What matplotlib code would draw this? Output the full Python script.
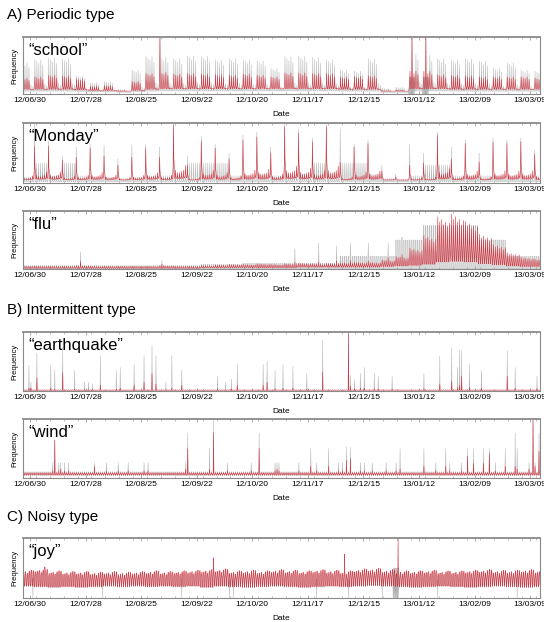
import numpy as np
import pandas as pd
import matplotlib
matplotlib.use("Agg")
import matplotlib.pyplot as plt
import matplotlib.dates as mdates

plt.rcParams['font.family'] = ['Liberation Sans', 'DejaVu Sans']

# ---------------- data ----------------
first_monday = "2012-06-25"
n_weeks = 38
tick_dates = ["2012-06-30", "2012-07-28", "2012-08-25", "2012-09-22", "2012-10-20",
              "2012-11-17", "2012-12-15", "2013-01-12", "2013-02-09", "2013-03-09"]
tick_labels = ["12/06/30", "12/07/28", "12/08/25", "12/09/22", "12/10/20",
               "12/11/17", "12/12/15", "13/01/12", "13/02/09", "13/03/09"]
x_range = ["2012-06-26 12:00", "2013-03-14"]

# "school" (weekly weekday-peak levels, Mon..Sun factors, 6 samples per day)
school_red_week = [0.28, 0.30, 0.33, 0.32, 0.27, 0.14, 0.15, 0.06, 0.22, 0.36,
                   0.38, 0.35, 0.36, 0.35, 0.34, 0.33, 0.35, 0.33, 0.30, 0.37,
                   0.37, 0.36, 0.36, 0.30, 0.31, 0.32, 0.06, 0.07, 0.40, 0.40,
                   0.34, 0.33, 0.32, 0.30, 0.30, 0.30, 0.30, 0.28]
school_gray_week = [0.55, 0.60, 0.63, 0.62, 0.32, 0.20, 0.22, 0.08, 0.42, 0.66,
                    0.65, 0.62, 0.67, 0.66, 0.60, 0.62, 0.60, 0.58, 0.45, 0.65,
                    0.66, 0.64, 0.60, 0.42, 0.40, 0.62, 0.10, 0.12, 0.70, 0.68,
                    0.62, 0.60, 0.62, 0.58, 0.45, 0.55, 0.42, 0.40]
school_base_week = [0.08, 0.08, 0.08, 0.08, 0.07, 0.06, 0.06, 0.05, 0.06, 0.08,
                    0.09, 0.09, 0.09, 0.09, 0.09, 0.09, 0.09, 0.09, 0.09, 0.09,
                    0.09, 0.09, 0.09, 0.08, 0.08, 0.08, 0.05, 0.05, 0.09, 0.09,
                    0.09, 0.08, 0.08, 0.08, 0.08, 0.08, 0.08, 0.08]
school_weekday = [1.0, 0.95, 0.9, 1.0, 0.85, 0.3, 0.25]
school_red_profile = [0.0, 0.1, 0.3, 1.0, 0.3, 0.15]
school_gray_profile = [0.0, 0.0, 0.1, 1.0, 0.05, 0.0]
school_spike_dates = ["2012-09-03", "2013-01-08", "2013-01-15"]
school_spike_red = [1.0, 1.0, 1.0]
school_spike_gray = [1.0, 1.0, 1.0]
school_block_dates = ["2013-01-07", "2013-01-08", "2013-01-09", "2013-01-14", "2013-01-15", "2013-01-16"]
school_block_high = 0.3

# "Monday"
monday_red_week = [0.40, 0.61, 0.62, 0.38, 0.43, 0.58, 0.45, 0.30, 0.43, 0.58,
                   0.43, 0.97, 0.30, 0.70, 0.58, 0.40, 0.72, 0.77, 0.50, 0.94,
                   0.83, 0.69, 0.94, 0.35, 0.60, 0.66, 0.20, 0.10, 0.30, 0.33,
                   0.80, 0.40, 0.66, 0.35, 0.68, 0.66, 0.69, 0.48]
monday_gray_week = [0.50, 1.00, 0.70, 0.45, 0.60, 0.65, 0.63, 0.40, 0.64, 0.65,
                    0.60, 1.00, 0.45, 0.78, 0.65, 0.50, 0.80, 0.85, 0.60, 1.00,
                    0.90, 0.75, 1.00, 0.90, 0.65, 0.72, 0.30, 0.15, 0.65, 0.50,
                    0.85, 0.60, 0.72, 0.50, 0.75, 0.72, 0.75, 0.55]
monday_gray_mid_week = [0.10, 0.33, 0.12, 0.33, 0.12, 0.10, 0.10, 0.08, 0.10, 0.12,
                        0.12, 0.12, 0.33, 0.33, 0.33, 0.12, 0.12, 0.15, 0.12, 0.15,
                        0.15, 0.33, 0.15, 0.33, 0.33, 0.15, 0.08, 0.06, 0.12, 0.30,
                        0.30, 0.12, 0.12, 0.12, 0.12, 0.12, 0.12, 0.12]
monday_weekday = [1.0, 0.22, 0.18, 0.18, 0.2, 0.22, 0.3]
monday_base = 0.05
monday_red_profile = [0.15, 0.3, 1.0, 0.4, 0.3, 0.2]
monday_gray_profile = [0.0, 0.1, 1.0, 0.2, 0.05, 0.0]

# "flu"
flu_red_week = [0.05, 0.05, 0.05, 0.05, 0.06, 0.05, 0.05, 0.05, 0.05, 0.05,
                0.06, 0.05, 0.05, 0.06, 0.07, 0.08, 0.08, 0.09, 0.08, 0.09,
                0.10, 0.09, 0.10, 0.11, 0.12, 0.12, 0.16, 0.22, 0.36, 0.58,
                0.90, 0.95, 0.82, 0.60, 0.42, 0.28, 0.20, 0.17]
flu_base_week = [0.01, 0.01, 0.01, 0.01, 0.01, 0.01, 0.01, 0.01, 0.01, 0.01,
                 0.01, 0.01, 0.01, 0.02, 0.02, 0.02, 0.02, 0.02, 0.02, 0.02,
                 0.03, 0.03, 0.03, 0.03, 0.03, 0.03, 0.04, 0.05, 0.06, 0.08,
                 0.12, 0.13, 0.12, 0.09, 0.07, 0.05, 0.04, 0.04]
flu_gray_week = [0.06, 0.06, 0.06, 0.06, 0.06, 0.06, 0.06, 0.06, 0.06, 0.06,
                 0.06, 0.06, 0.06, 0.08, 0.08, 0.08, 0.10, 0.10, 0.10, 0.10,
                 0.10, 0.10, 0.10, 0.22, 0.22, 0.22, 0.22, 0.50, 0.50, 0.75,
                 0.75, 0.75, 0.75, 0.50, 0.50, 0.22, 0.22, 0.22]
flu_weekday = [1.0, 0.9, 0.95, 0.85, 0.9, 0.8, 0.88]
flu_red_profile = [0.0, 0.15, 0.45, 1.0, 0.5, 0.2]
flu_gray_profile = [0.0, 0.0, 1.0, 1.0, 0.0, 0.0]
flu_spike_dates = ["2012-07-25", "2012-09-04", "2012-11-10", "2012-11-22", "2012-12-01",
                   "2012-12-08", "2012-12-17", "2012-12-27", "2013-01-03"]
flu_spike_red = [0.13, 0.08, 0.12, 0.12, 0.14, 0.15, 0.14, 0.2, 0.25]
flu_spike_gray = [0.30, 0.15, 0.35, 0.45, 0.40, 0.45, 0.45, 0.45, 0.55]

# "earthquake"
quake_base = 0.012
quake_dates = ["2012-06-29", "2012-06-30", "2012-07-03", "2012-07-10", "2012-07-12",
               "2012-07-16", "2012-07-22", "2012-07-27", "2012-07-29", "2012-07-31",
               "2012-08-04", "2012-08-12", "2012-08-14", "2012-08-21", "2012-08-26",
               "2012-08-30", "2012-09-01", "2012-09-06", "2012-09-09", "2012-09-14",
               "2012-10-02", "2012-10-06", "2012-10-09", "2012-10-12", "2012-10-25",
               "2012-10-27", "2012-10-31", "2012-11-04", "2012-11-09", "2012-11-16",
               "2012-11-24", "2012-12-07", "2012-12-08", "2012-12-10", "2012-12-13",
               "2012-12-15", "2012-12-20", "2012-12-22", "2012-12-29", "2013-01-14",
               "2013-01-22", "2013-01-28", "2013-01-31", "2013-02-01", "2013-02-02",
               "2013-02-06", "2013-02-12", "2013-02-25", "2013-03-01", "2013-03-12"]
quake_red = [0.05, 0.05, 0.22, 0.05, 0.03, 0.31, 0.03, 0.02, 0.02, 0.02,
             0.10, 0.03, 0.05, 0.10, 0.15, 0.30, 0.12, 0.02, 0.05, 0.10,
             0.03, 0.02, 0.03, 0.10, 0.10, 0.15, 0.04, 0.05, 0.05, 0.03,
             0.32, 1.00, 0.08, 0.04, 0.05, 0.05, 0.04, 0.03, 0.03, 0.04,
             0.12, 0.17, 0.06, 0.10, 0.25, 0.06, 0.05, 0.25, 0.05, 0.04]
quake_gray = [0.44, 0.15, 0.64, 0.44, 0.35, 0.73, 0.35, 0.15, 0.15, 0.12,
              0.59, 0.35, 0.40, 0.45, 0.60, 0.78, 0.60, 0.15, 0.60, 0.35,
              0.25, 0.15, 0.20, 0.45, 0.45, 0.50, 0.35, 0.45, 0.42, 0.30,
              0.86, 1.00, 0.27, 0.20, 0.30, 0.40, 0.30, 0.25, 0.25, 0.30,
              0.59, 0.73, 0.40, 0.70, 0.70, 0.45, 0.35, 0.68, 0.40, 0.25]

# "wind"
wind_base = 0.05
wind_day_peak = 0.09
wind_dates = ["2012-07-11", "2012-07-12", "2012-07-14", "2012-07-15", "2012-07-17",
              "2012-07-19", "2012-08-01", "2012-08-07", "2012-08-13", "2012-08-18",
              "2012-08-26", "2012-08-28", "2012-09-16", "2012-09-17", "2012-09-28",
              "2012-09-30", "2012-10-07", "2012-10-19", "2012-10-23", "2012-10-31",
              "2012-11-01", "2012-11-02", "2012-11-12", "2012-11-18", "2012-11-21",
              "2012-11-27", "2012-12-02", "2012-12-04", "2012-12-06", "2012-12-08",
              "2012-12-13", "2012-12-15", "2012-12-19", "2012-12-26", "2012-12-31",
              "2013-01-02", "2013-01-14", "2013-01-20", "2013-01-25", "2013-01-27",
              "2013-02-02", "2013-02-05", "2013-02-08", "2013-02-13", "2013-02-16",
              "2013-02-19", "2013-02-24", "2013-03-01", "2013-03-02", "2013-03-08",
              "2013-03-10", "2013-03-11", "2013-03-13"]
wind_red = [0.12, 0.64, 0.12, 0.15, 0.12, 0.12, 0.20, 0.12, 0.12, 0.12,
            0.12, 0.12, 0.15, 0.50, 0.15, 0.77, 0.12, 0.12, 0.50, 0.12,
            0.15, 0.12, 0.12, 0.20, 0.12, 0.20, 0.12, 0.12, 0.30, 0.33,
            0.12, 0.12, 0.12, 0.12, 0.12, 0.15, 0.20, 0.12, 0.20, 0.12,
            0.12, 0.37, 0.25, 0.25, 0.42, 0.12, 0.20, 0.20, 0.15, 0.15,
            0.98, 0.20, 0.45]
wind_gray = [0.26, 0.64, 0.26, 0.26, 0.26, 0.26, 0.26, 0.26, 0.26, 0.26,
             0.26, 0.26, 0.26, 0.76, 0.50, 1.00, 0.26, 0.26, 0.76, 0.26,
             0.26, 0.26, 0.26, 0.50, 0.26, 0.50, 0.26, 0.26, 0.52, 0.52,
             0.26, 0.26, 0.26, 0.26, 0.26, 0.50, 0.50, 0.26, 0.50, 0.26,
             0.26, 0.50, 0.50, 0.50, 0.50, 0.26, 0.50, 0.76, 0.50, 0.26,
             1.00, 0.26, 0.76]

# "joy"
joy_red_week = [0.44, 0.46, 0.43, 0.42, 0.42, 0.41, 0.42, 0.41, 0.42, 0.43,
                0.42, 0.43, 0.44, 0.45, 0.46, 0.43, 0.44, 0.43, 0.45, 0.44,
                0.43, 0.45, 0.44, 0.43, 0.46, 0.47, 0.45, 0.43, 0.43, 0.44,
                0.43, 0.43, 0.44, 0.45, 0.44, 0.44, 0.45, 0.44]
joy_base_week = [0.20, 0.19, 0.18, 0.19, 0.18, 0.19, 0.20, 0.19, 0.20, 0.19,
                 0.20, 0.19, 0.20, 0.18, 0.20, 0.19, 0.18, 0.19, 0.20, 0.19,
                 0.18, 0.19, 0.20, 0.19, 0.20, 0.21, 0.20, 0.19, 0.18, 0.19,
                 0.20, 0.19, 0.18, 0.19, 0.20, 0.19, 0.18, 0.19]
joy_weekday = [0.95, 0.97, 1.0, 0.93, 1.02, 1.06, 1.04]
joy_red_profile = [0.2, 0.0, 0.55, 0.85, 1.0, 0.7]
joy_spike_dates = ["2012-07-07", "2012-09-30", "2012-12-05", "2013-01-01"]
joy_spike_red = [0.52, 0.67, 0.73, 1.00]
joy_dip_dates = ["2012-07-01", "2012-08-05", "2012-09-14", "2012-10-08", "2012-10-10",
                 "2012-11-21", "2012-12-07", "2012-12-24", "2013-01-21", "2013-03-02"]
joy_block_dates = ["2012-12-30", "2012-12-31", "2013-01-01"]
joy_block_high = 0.5

# ---------------- helpers ----------------
SAMPLES = 6
days = pd.date_range(first_monday, periods=n_weeks * 7, freq="D")
day_num = mdates.date2num(days)
x_all = (day_num[:, None] + np.arange(SAMPLES)[None, :] / SAMPLES).ravel()


def per_day(week_vals, weekday):
    week_vals = np.broadcast_to(np.asarray(week_vals, float), (n_weeks,))
    return np.repeat(week_vals, 7) * np.tile(np.asarray(weekday, float), n_weeks)


def series(peak_day, base_day, profile):
    peak_day = np.broadcast_to(peak_day, (len(days),))
    base_day = np.broadcast_to(base_day, (len(days),))
    prof = np.asarray(profile, float)
    return (base_day[:, None] + (np.maximum(peak_day, base_day) - base_day)[:, None] * prof[None, :]).ravel()


def idx(d):
    return int(np.argmin(np.abs(x_all - (mdates.date2num(pd.Timestamp(d)) + 0.5))))


def put_events(y, dates, vals, mode="max"):
    y = y.copy()
    for d, v in zip(dates, vals):
        i = idx(d)
        y[i] = max(y[i], v) if mode == "max" else min(y[i], v)
    return y


def put_block(y, dates, high):
    # dense up/down gray strokes over whole days
    y = y.copy()
    for d in dates:
        i0 = idx(d) - SAMPLES // 2
        for k in range(SAMPLES):
            y[i0 + k] = high if k % 2 else 0.0
    return y


ones = [1.0] * 7

school_red = put_events(series(per_day(school_red_week, school_weekday),
                               per_day(school_base_week, ones), school_red_profile),
                        school_spike_dates, school_spike_red)
school_gray = series(per_day(school_gray_week, school_weekday),
                     per_day(school_base_week, ones) * 0.6, school_gray_profile)
school_gray = put_events(put_block(school_gray, school_block_dates, school_block_high),
                         school_spike_dates, school_spike_gray)

mon_peak = per_day(monday_red_week, monday_weekday)
monday_red = series(mon_peak, monday_base, monday_red_profile)
mon_gpeak = per_day(monday_gray_week, [1, 0, 0, 0, 0, 0, 0]) + per_day(monday_gray_mid_week, [0, 1, 1, 1, 1, 1, 1])
monday_gray = series(mon_gpeak, 0.02, monday_gray_profile)

flu_red = put_events(series(per_day(flu_red_week, flu_weekday), per_day(flu_base_week, ones), flu_red_profile),
                     flu_spike_dates, flu_spike_red)
flu_gray = put_events(series(per_day(flu_gray_week, ones), 0.0, flu_gray_profile),
                      flu_spike_dates, flu_spike_gray)

quake_r = put_events(series(quake_base * 1.6, quake_base, [0, 0.3, 1, 0.6, 0.4, 0.1]), quake_dates, quake_red)
quake_g = put_events(series(0.0, 0.0, [0] * SAMPLES), quake_dates, quake_gray)

wind_r = put_events(series(wind_day_peak, wind_base, [0.1, 0.0, 0.6, 1.0, 0.7, 0.3]), wind_dates, wind_red)
wind_g = put_events(series(wind_day_peak * 1.2, wind_base * 0.8, [0.1, 0.0, 0.6, 1.0, 0.7, 0.3]), wind_dates, wind_gray)

joy_r = series(per_day(joy_red_week, joy_weekday), per_day(joy_base_week, ones), joy_red_profile)
joy_g = put_events(joy_r * 0.95, joy_dip_dates, [0.0] * len(joy_dip_dates), mode="min")
joy_g = put_block(joy_g, joy_block_dates, joy_block_high)
joy_r = put_events(joy_r, joy_spike_dates, joy_spike_red)

panels = [("\u201cschool\u201d", school_red, school_gray),
          ("\u201cMonday\u201d", monday_red, monday_gray),
          ("\u201cflu\u201d", flu_red, flu_gray),
          ("\u201cearthquake\u201d", quake_r, quake_g),
          ("\u201cwind\u201d", wind_r, wind_g),
          ("\u201cjoy\u201d", joy_r, joy_g)]

# ---------------- drawing ----------------
W_PX, H_PX = 544, 622
fig = plt.figure(figsize=(W_PX / 100, H_PX / 100), dpi=100)
panel_px = [(37, 94), (123, 183), (211, 269), (332, 391), (419, 478), (538, 598)]
left_px, right_px = 23, 540
RED = "#d3222f"
GRAY = "#a4a4a4"
FRAME = "#8a8a8a"

for (label, red, gray), (top, bot) in zip(panels, panel_px):
    ax = fig.add_axes([left_px / W_PX, 1 - bot / H_PX, (right_px - left_px) / W_PX, (bot - top) / H_PX])
    ax.plot(x_all, gray, color=GRAY, lw=0.35, alpha=0.85)
    ax.plot(x_all, red, color=RED, lw=0.42, alpha=0.85)
    ax.set_xlim(mdates.date2num(pd.Timestamp(x_range[0])), mdates.date2num(pd.Timestamp(x_range[1])))
    ax.set_ylim(0, 1.0)
    ax.set_yticks([])
    ax.set_xticks(mdates.date2num(pd.to_datetime(tick_dates)))
    ax.set_xticklabels(tick_labels, fontsize=6)
    ax.xaxis.set_minor_locator(mdates.DayLocator(interval=7))
    ax.tick_params(axis="x", which="major", direction="in", length=2.5, width=0.5, color=FRAME,
                   pad=2.5, top=True)
    ax.tick_params(axis="x", which="minor", direction="in", length=1.5, width=0.4, color=FRAME, top=True)
    for s in ax.spines.values():
        s.set_color(FRAME)
        s.set_linewidth(0.8)
    ax.spines["top"].set_linewidth(1.3)
    ax.set_xlabel("Date", fontsize=6, labelpad=5)
    ax.set_ylabel("Frequency", fontsize=5.5, labelpad=3)
    ax.annotate(label, xy=(0, 1), xycoords="axes fraction", xytext=(3.6, -10),
                textcoords="offset points", fontsize=12, va="center", ha="left")

fig.text(7 / W_PX, 1 - 15 / H_PX, "A) Periodic type", fontsize=11, va="center", ha="left")
fig.text(7 / W_PX, 1 - 310 / H_PX, "B) Intermittent type", fontsize=11, va="center", ha="left")
fig.text(7 / W_PX, 1 - 517 / H_PX, "C) Noisy type", fontsize=11, va="center", ha="left")

fig.savefig("out.png", dpi=100)
